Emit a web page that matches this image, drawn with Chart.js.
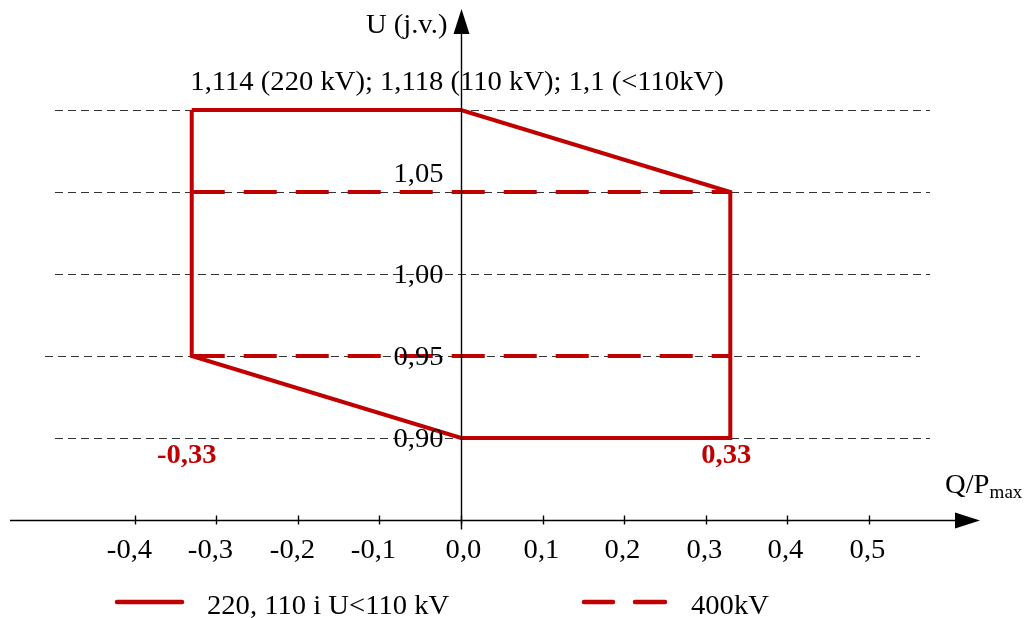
<!DOCTYPE html>
<html>
<head>
<meta charset="utf-8">
<style>
  html, body { margin: 0; padding: 0; background: #fff; }
  #wrap { width: 1027px; height: 618px; position: relative; }
</style>
<script src="https://cdn.jsdelivr.net/npm/chart.js@4.4.1/dist/chart.umd.min.js"></script>
</head>
<body>
<div id="wrap"><canvas id="chart"></canvas></div>
<script>
// --- data ---
const polyQ = [-0.33, 0, 0.33, 0.33, 0, -0.33, -0.33];
const polyU = [1.10, 1.10, 1.05, 0.90, 0.90, 0.95, 1.10];
const q400 = [-0.33, 0.33];
const u400High = [1.05, 1.05];
const u400Low = [0.95, 0.95];
const xTicks = [-0.4, -0.3, -0.2, -0.1, 0.0, 0.1, 0.2, 0.3, 0.4, 0.5];
const yTicks = [0.90, 0.95, 1.00, 1.05];
const gridLevels = [0.90, 0.95, 1.00, 1.05, 1.10];
const legendLabels = ['220, 110 i U<110 kV', '400kV'];
const topNote = '1,114 (220 kV); 1,118 (110 kV); 1,1 (<110kV)';

const RED = '#c00000';
const FONT = '"Liberation Serif", "Times New Roman", serif';
const STRETCH = 1.06;

const toPts = (xs, ys) => xs.map((x, i) => ({ x: x, y: ys[i] }));
const comma = (v, d) => v.toFixed(d).replace('.', ',');

// text slightly widened like the original drawing, returns drawn width
function drawText(ctx, txt, x, y, align, font, color) {
    ctx.save();
    ctx.font = font;
    ctx.fillStyle = color || '#000';
    ctx.textBaseline = 'alphabetic';
    ctx.textAlign = 'left';
    const w = ctx.measureText(txt).width * STRETCH;
    let left = x;
    if (align === 'center') left = x - w / 2;
    if (align === 'right') left = x - w;
    ctx.translate(left, y);
    ctx.scale(STRETCH, 1);
    ctx.fillText(txt, 0, 0);
    ctx.restore();
    return w;
}

// --- axes, grid, labels ---
const decoPlugin = {
    id: 'deco',
    beforeDatasetsDraw(chart) {
        const { ctx, scales: { y } } = chart;
        ctx.save();
        ctx.strokeStyle = '#000';
        ctx.lineWidth = 0.8;
        ctx.setLineDash([8, 5]);
        gridLevels.forEach(v => {
            const py = Math.round(y.getPixelForValue(v)) + 0.5;
            const off = (v === 0.95) ? -10 : 0;
            ctx.beginPath();
            ctx.moveTo(55 + off, py);
            ctx.lineTo(930 + off, py);
            ctx.stroke();
        });
        ctx.restore();
    },
    afterDatasetsDraw(chart) {
        const { ctx, scales: { x, y }, chartArea } = chart;
        const x0 = Math.round(x.getPixelForValue(0)) + 0.5;
        const yBase = Math.round(y.getPixelForValue(y.min)) + 0.5;
        const f = '27px ' + FONT;
        ctx.save();
        ctx.strokeStyle = '#000';
        ctx.fillStyle = '#000';
        ctx.lineWidth = 1.4;
        // y axis
        ctx.beginPath();
        ctx.moveTo(x0, yBase + 9);
        ctx.lineTo(x0, 30);
        ctx.stroke();
        ctx.beginPath();
        ctx.moveTo(x0, 9);
        ctx.lineTo(x0 - 8, 34);
        ctx.lineTo(x0 + 8, 34);
        ctx.closePath();
        ctx.fill();
        // x axis
        ctx.beginPath();
        ctx.moveTo(chartArea.left, yBase);
        ctx.lineTo(chartArea.right - 20, yBase);
        ctx.stroke();
        ctx.beginPath();
        ctx.moveTo(chartArea.right, yBase);
        ctx.lineTo(chartArea.right - 25, yBase - 8);
        ctx.lineTo(chartArea.right - 25, yBase + 8);
        ctx.closePath();
        ctx.fill();
        xTicks.forEach(v => {
            const px = Math.round(x.getPixelForValue(v)) + 0.5;
            ctx.beginPath();
            ctx.moveTo(px, yBase - 5);
            ctx.lineTo(px, yBase + 4);
            ctx.stroke();
            const shift = v < 0 ? -6 : (v === 0 ? 2 : -2);
            drawText(ctx, comma(v, 1), px + shift, yBase + 37, 'center', f);
        });
        // y labels
        yTicks.forEach(v => {
            const py = y.getPixelForValue(v);
            const by = (v > 1.04) ? py - 10 : py + 9;
            drawText(ctx, comma(v, 2), x0 - 18, by, 'right', f);
        });
        drawText(ctx, 'U (j.v.)', x0 - 14, 33, 'right', f);
        drawText(ctx, topNote, 457, 90, 'center', f);
        // Q/Pmax
        const qw = drawText(ctx, 'Q/P', 945, 493, 'left', f);
        drawText(ctx, 'max', 945 + qw, 498, 'left', '18px ' + FONT);
        // red labels
        const fb = 'bold 27px ' + FONT;
        drawText(ctx, comma(-0.33, 2), x.getPixelForValue(-0.33) - 5, 463, 'center', fb, RED);
        drawText(ctx, comma(0.33, 2), x.getPixelForValue(0.33) - 4, 463, 'center', fb, RED);
        // legend
        const ds = chart.data.datasets;
        const ly = 602;
        ctx.lineCap = 'round';
        ctx.strokeStyle = ds[0].borderColor;
        ctx.lineWidth = 4.5;
        ctx.beginPath();
        ctx.moveTo(117, ly);
        ctx.lineTo(182, ly);
        ctx.stroke();
        ctx.beginPath();
        ctx.moveTo(584, ly);
        ctx.lineTo(613, ly);
        ctx.moveTo(635, ly);
        ctx.lineTo(665, ly);
        ctx.stroke();
        drawText(ctx, legendLabels[0], 207, 614, 'left', f);
        drawText(ctx, legendLabels[1], 691, 614, 'left', f);
        ctx.restore();
    }
};

const ctx = document.getElementById('chart').getContext('2d');
new Chart(ctx, {
    type: 'scatter',
    data: {
        datasets: [
            {
                label: legendLabels[0],
                data: toPts(polyQ, polyU),
                showLine: true,
                borderColor: RED,
                borderWidth: 4,
                pointRadius: 0,
                fill: false,
                tension: 0
            },
            {
                label: legendLabels[1],
                data: toPts(q400, u400High),
                showLine: true,
                borderColor: RED,
                borderWidth: 4,
                borderDash: [33, 19],
                pointRadius: 0
            },
            {
                label: legendLabels[1],
                data: toPts(q400, u400Low),
                showLine: true,
                borderColor: RED,
                borderWidth: 4,
                borderDash: [33, 19],
                pointRadius: 0
            }
        ]
    },
    options: {
        responsive: true,
        maintainAspectRatio: false,
        animation: false,
        layout: { padding: { left: 10, right: 47, top: 10, bottom: 98 } },
        plugins: { legend: { display: false }, tooltip: { enabled: false } },
        scales: {
            x: {
                type: 'linear',
                min: -0.5527,
                max: 0.636,
                display: false
            },
            y: {
                type: 'linear',
                min: 0.85,
                max: 1.161,
                display: false
            }
        }
    },
    plugins: [decoPlugin]
});
</script>
</body>
</html>
